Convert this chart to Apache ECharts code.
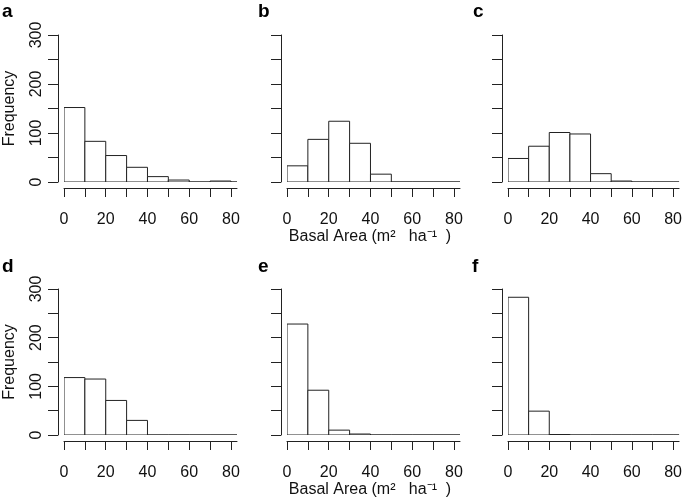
<!DOCTYPE html>
<html>
<head>
<meta charset="utf-8">
<script src="https://cdn.jsdelivr.net/npm/echarts@6/dist/echarts.min.js"></script>
<style>html,body{margin:0;padding:0;background:#fff;}#c{width:685px;height:503px;}</style>
</head>
<body>
<div id="c"></div>
<script>
// Histogram bins (lower edges, width 10, m2 ha-1)
const binStarts = [0, 10, 20, 30, 40, 50, 60, 70, 80];
const binWidth = 10;
// Frequencies per panel
const countsA = [152, 83, 54, 30, 11, 4, 0, 2, 0];
const countsB = [33, 87, 124, 79, 16, 0, 0, 0, 0];
const countsC = [48, 73, 101, 98, 17, 2, 0, 0, 0];
const countsD = [118, 115, 71, 30, 0, 0, 0, 0, 0];
const countsE = [228, 92, 10, 2, 0, 0, 0, 0, 0];
const countsF = [283, 49, 1, 0, 0, 0, 0, 0, 0];
const panelLabels = ['a', 'b', 'c', 'd', 'e', 'f'];
const yTicks = [0, 100, 200, 300];
const xTickLabels = [0, 20, 40, 60, 80];
const xLabel = 'Basal Area (m\u00B2   ha\u207B\u00B9  )';
const yLabel = 'Frequency';

const allCounts = [countsA, countsB, countsC, countsD, countsE, countsF];
const lefts = [64, 287, 508];
const tops = [35, 289];
const heights = [147, 146];
const gw = 173;
const xMax = 82.9;
const ink = '#222';
const font = 'Liberation Sans, Arial, sans-serif';

const grids = [], xAxes = [], yAxes = [], series = [], titles = [];
for (let i = 0; i < 6; i++) {
  const col = i % 3, row = Math.floor(i / 3);
  grids.push({left: lefts[col], top: tops[row], width: gw, height: heights[row]});
  xAxes.push({
    type: 'value', gridIndex: i, min: 0, max: xMax, interval: 10, offset: 6,
    axisLine: {show: true, onZero: false, lineStyle: {color: ink, width: 1}},
    axisTick: {show: true, length: 9, lineStyle: {color: ink}},
    splitLine: {show: false},
    axisLabel: {show: true, margin: 24, color: '#111', fontSize: 16, fontFamily: font,
      showMaxLabel: false,
      formatter: v => xTickLabels.indexOf(v) >= 0 ? String(v) : ''}
  });
  yAxes.push({
    type: 'value', gridIndex: i, min: 0, max: 300, interval: 50, offset: 6,
    axisLine: {show: true, onZero: false, lineStyle: {color: ink, width: 1}},
    axisTick: {show: true, length: 10, lineStyle: {color: ink}},
    splitLine: {show: false},
    name: col === 0 ? yLabel : '',
    nameLocation: 'middle', nameGap: 40,
    nameTextStyle: {color: '#111', fontSize: 16, fontFamily: font},
    axisLabel: {show: col === 0, rotate: 90, margin: 13, color: '#111', fontSize: 16, fontFamily: font,
      formatter: v => yTicks.indexOf(v) >= 0 ? String(v) : ''}
  });
  const data = binStarts.map((b, k) => [b, b + binWidth, allCounts[i][k]]);
  series.push({
    type: 'custom', xAxisIndex: i, yAxisIndex: i, data: data, clip: true,
    renderItem: function (params, api) {
      const p0 = api.coord([api.value(0), api.value(2)]);
      const p1 = api.coord([api.value(1), 0]);
      const cs = params.coordSys;
      const x0 = Math.max(p0[0], cs.x), x1 = Math.min(p1[0], cs.x + cs.width);
      if (x1 < x0) return;
      return {type: 'rect', shape: {x: x0, y: p0[1], width: x1 - x0, height: p1[1] - p0[1]},
        style: {fill: '#fff', stroke: ink, lineWidth: 1}};
    }
  });
}
const letterPos = [[2, 2], [258, 2], [473, 2], [2, 257], [258, 257], [472, 257]];
panelLabels.forEach((t, i) => {
  titles.push({text: t, left: letterPos[i][0], top: letterPos[i][1], padding: 0,
    textStyle: {fontSize: 19, fontWeight: 'bold', color: '#000', fontFamily: font}});
});
titles.push({text: xLabel, left: 370, top: 229, textAlign: 'center', padding: 0,
  textStyle: {fontSize: 16, fontWeight: 'normal', color: '#111', fontFamily: font}});
titles.push({text: xLabel, left: 370, top: 482, textAlign: 'center', padding: 0,
  textStyle: {fontSize: 16, fontWeight: 'normal', color: '#111', fontFamily: font}});

const chart = echarts.init(document.getElementById('c'), null, {renderer: 'canvas'});
chart.setOption({
  animation: false,
  backgroundColor: '#fff',
  title: titles,
  grid: grids,
  xAxis: xAxes,
  yAxis: yAxes,
  series: series
});
</script>
</body>
</html>
